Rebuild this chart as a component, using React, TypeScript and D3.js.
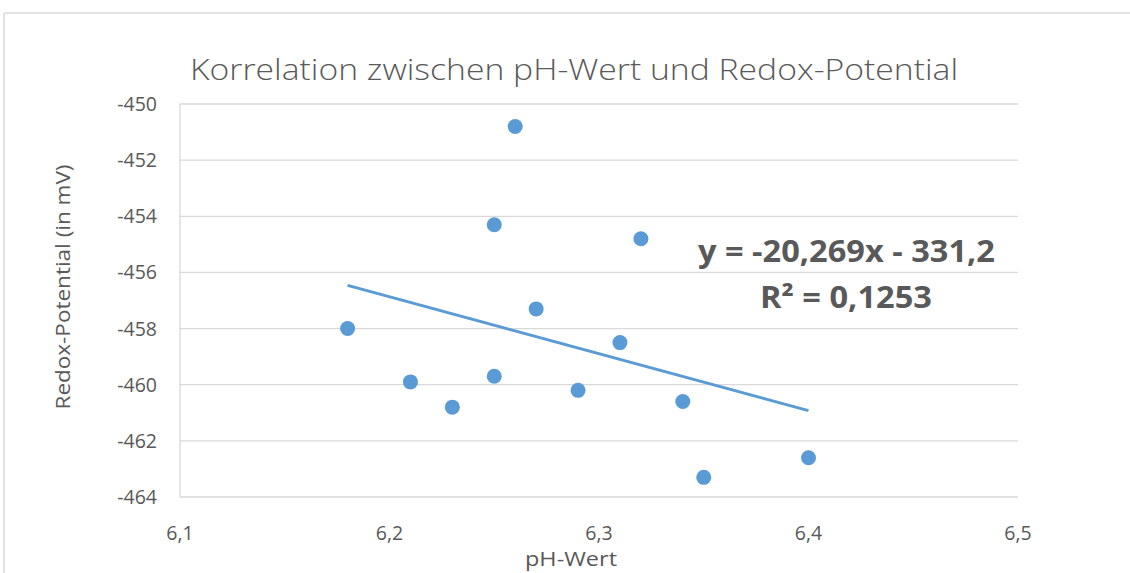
import React from 'react'
import * as d3 from 'd3'

// pH values and matching redox potentials (mV)
const phValues = [6.18, 6.21, 6.23, 6.25, 6.25, 6.26, 6.27, 6.29, 6.31, 6.32, 6.34, 6.35, 6.4]
const redoxValues = [-458.0, -459.9, -460.8, -459.7, -454.3, -450.8, -457.3, -460.2, -458.5, -454.8, -460.6, -463.3, -462.6]

const xTicks = [6.1, 6.2, 6.3, 6.4, 6.5]
const yTicks = [-450, -452, -454, -456, -458, -460, -462, -464]

// linear trend as shown in the chart
const trendSlope = -20.269
const trendIntercept = -331.2
const equationLabel = 'y = -20,269x - 331,2'
const r2Label = 'R² = 0,1253'

const W = 1130
const H = 573
const FONT = '"Open Sans", sans-serif'
const TEXT = '#595959'
const GRID = '#d9d9d9'
const BLUE = '#5b9bd5'

const fmt = (v: number) => String(v).replace('.', ',')

const App: React.FC = () => {
  const x = d3.scaleLinear().domain([6.1, 6.5]).range([180, 1018])
  const y = d3.scaleLinear().domain([-450, -464]).range([104, 497])

  const trendX = d3.extent(phValues) as [number, number]
  const trendLine = d3
    .line<number>()
    .x((d) => x(d))
    .y((d) => y(trendSlope * d + trendIntercept))

  return (
    <svg width={W} height={H} style={{ position: 'absolute', left: 0, top: 0 }} fontFamily={FONT}>
      <rect width={W} height={H} fill="#fff" />
      {/* chart frame */}
      <line x1={4} x2={W} y1={13} y2={13} stroke={GRID} strokeWidth={1.5} />
      <line x1={4} x2={4} y1={13} y2={H} stroke={GRID} strokeWidth={1.5} />

      <text
        x={190}
        y={80}
        fontSize={30}
        fill={TEXT}
        fontWeight={300}
        textLength={768}
        lengthAdjust="spacingAndGlyphs"
      >
        Korrelation zwischen pH-Wert und Redox-Potential
      </text>

      {yTicks.map((t) => (
        <g key={t}>
          <line x1={x(6.1)} x2={x(6.5)} y1={y(t)} y2={y(t)} stroke={GRID} strokeWidth={1.3} />
          <text x={157} y={y(t) + 7} textAnchor="end" fontSize={19.5} fill={TEXT}>
            {t}
          </text>
        </g>
      ))}
      <line x1={x(6.1)} x2={x(6.1)} y1={y(-450)} y2={y(-464)} stroke={GRID} strokeWidth={1.3} />

      {xTicks.map((t) => (
        <text key={t} x={x(t)} y={540} textAnchor="middle" fontSize={19.5} fill={TEXT}>
          {fmt(t)}
        </text>
      ))}

      <text
        transform={`translate(70,287) rotate(-90)`}
        textAnchor="middle"
        fontSize={20}
        fill={TEXT}
        textLength={245}
        lengthAdjust="spacingAndGlyphs"
      >
        Redox-Potential (in mV)
      </text>
      <text
        x={525}
        y={566}
        fontSize={20}
        fill={TEXT}
        textLength={92}
        lengthAdjust="spacingAndGlyphs"
      >
        pH-Wert
      </text>

      {phValues.map((p, i) => (
        <circle key={i} cx={x(p)} cy={y(redoxValues[i])} r={7.5} fill={BLUE} />
      ))}

      <path d={trendLine(trendX) || ''} stroke={BLUE} strokeWidth={3} fill="none" />

      <text
        x={698}
        y={262}
        fontSize={30}
        fontWeight={700}
        fill={TEXT}
        textLength={297}
        lengthAdjust="spacingAndGlyphs"
      >
        {equationLabel}
      </text>
      <text
        x={760}
        y={308}
        fontSize={30}
        fontWeight={700}
        fill={TEXT}
        textLength={172}
        lengthAdjust="spacingAndGlyphs"
      >
        {r2Label}
      </text>
    </svg>
  )
}

export default App
